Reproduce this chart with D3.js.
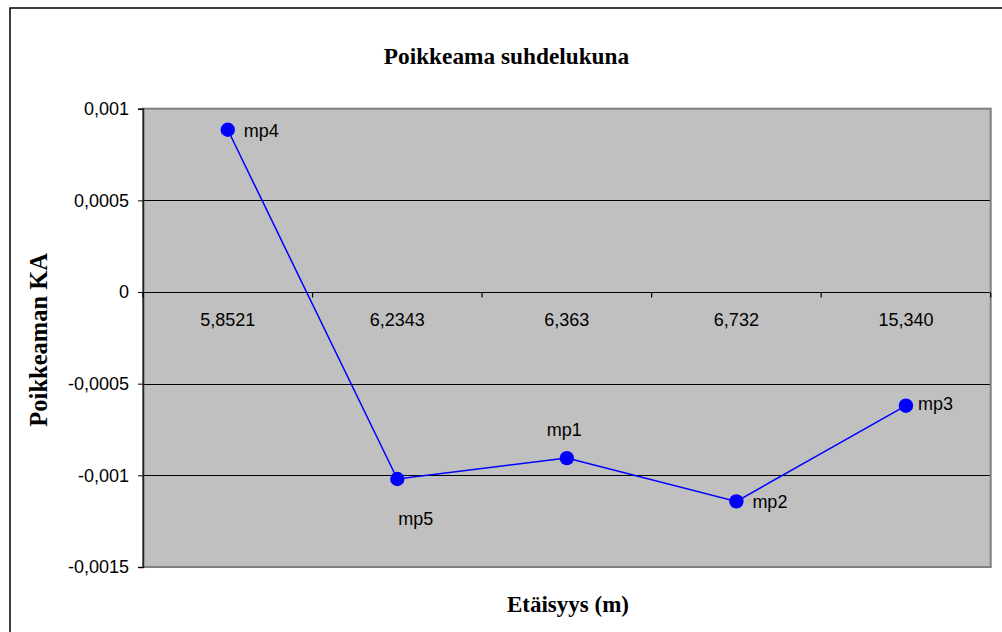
<!DOCTYPE html>
<html>
<head>
<meta charset="utf-8">
<script src="https://cdn.jsdelivr.net/npm/d3@7/dist/d3.min.js"></script>
<style>
  html, body { margin: 0; padding: 0; background: #fff; }
  svg { display: block; }
</style>
</head>
<body>
<svg id="chart" width="1002" height="632"></svg>
<script>
// Distance categories (m) along the x axis
const categories = ["5,8521", "6,2343", "6,363", "6,732", "15,340"];
// Mean deviation ratio per measuring point
const values = [0.000885, -0.00102, -0.000906, -0.001142, -0.00062];
// Measuring point names shown next to the markers
const pointLabels = ["mp4", "mp5", "mp1", "mp2", "mp3"];
// Value axis ticks
const yTicks = [0.001, 0.0005, 0, -0.0005, -0.001, -0.0015];

const titleText = "Poikkeama suhdelukuna";
const yTitleText = "Poikkeaman KA";
const xTitleText = "Etäisyys (m)";

// How each point label sits relative to its marker
const labelPlacement = {
  mp4: { anchor: "start", dx: 16, dy: 7 },
  mp5: { anchor: "start", dx: 1, dy: 46 },
  mp1: { anchor: "middle", dx: -2.5, dy: -22 },
  mp2: { anchor: "start", dx: 16, dy: 7 },
  mp3: { anchor: "start", dx: 12, dy: 4 }
};

const svg = d3.select("#chart");
const plot = { left: 143, top: 108.7, right: 990.7, bottom: 567 };

const x = d3.scaleBand().domain(categories).range([plot.left, plot.right]).paddingInner(0).paddingOuter(0);
const y = d3.scaleLinear().domain([-0.0015, 0.001]).range([plot.bottom, plot.top]);
const fmt = v => String(v).replace(".", ",");

const sans = "'Liberation Sans', Arial, sans-serif";
const serif = "'Liberation Serif', 'Times New Roman', serif";

// Chart frame
svg.append("rect")
  .attr("x", 10).attr("y", 8)
  .attr("width", 1010).attr("height", 640)
  .attr("fill", "#fff").attr("stroke", "#000").attr("stroke-width", 1.5);

// Plot area background
svg.append("rect")
  .attr("x", plot.left).attr("y", plot.top)
  .attr("width", plot.right - plot.left).attr("height", plot.bottom - plot.top)
  .attr("fill", "#c0c0c0");

// Horizontal gridlines
svg.append("g")
  .selectAll("line")
  .data(yTicks.filter(v => v !== 0.001 && v !== -0.0015))
  .join("line")
  .attr("x1", plot.left).attr("x2", plot.right)
  .attr("y1", d => Math.round(y(d)) + 0.5).attr("y2", d => Math.round(y(d)) + 0.5)
  .attr("stroke", "#000").attr("stroke-width", 1);

// Plot border
svg.append("rect")
  .attr("x", plot.left).attr("y", plot.top)
  .attr("width", plot.right - plot.left).attr("height", plot.bottom - plot.top)
  .attr("fill", "none").attr("stroke", "#808080").attr("stroke-width", 2);

// Value axis
const yAxis = d3.axisLeft(y).tickValues(yTicks).tickSize(5).tickPadding(9).tickFormat(fmt);
const gy = svg.append("g").attr("transform", `translate(${plot.left},0)`).call(yAxis);
gy.select(".domain").attr("stroke", "#222").attr("stroke-width", 1.5);
gy.selectAll(".tick line").attr("stroke", "#000");
gy.selectAll(".tick text")
  .attr("font-family", sans).attr("font-size", 18).attr("fill", "#000");

// Category axis crossing at zero, ticks between categories
const zeroY = Math.round(y(0)) + 0.5;
const boundaries = categories.map(c => x(c)).concat([plot.right]);
svg.append("g")
  .selectAll("line")
  .data(boundaries)
  .join("line")
  .attr("x1", d => d).attr("x2", d => d)
  .attr("y1", zeroY).attr("y2", zeroY + 5)
  .attr("stroke", "#000").attr("stroke-width", 1.2);

svg.append("g")
  .selectAll("text")
  .data(categories)
  .join("text")
  .attr("x", d => x(d) + x.bandwidth() / 2)
  .attr("y", 326)
  .attr("text-anchor", "middle")
  .attr("font-family", sans).attr("font-size", 18).attr("fill", "#000")
  .text(d => d);

// Series line and markers
const pts = categories.map((c, i) => ({ cx: x(c) + x.bandwidth() / 2, cy: y(values[i]), label: pointLabels[i] }));
svg.append("path")
  .datum(pts)
  .attr("d", d3.line().x(d => d.cx).y(d => d.cy))
  .attr("fill", "none").attr("stroke", "#0000ff").attr("stroke-width", 1.5);

svg.append("g")
  .selectAll("circle")
  .data(pts)
  .join("circle")
  .attr("cx", d => d.cx).attr("cy", d => d.cy).attr("r", 7.2)
  .attr("fill", "#0000ff");

svg.append("g")
  .selectAll("text")
  .data(pts)
  .join("text")
  .attr("x", d => d.cx + labelPlacement[d.label].dx)
  .attr("y", d => d.cy + labelPlacement[d.label].dy)
  .attr("text-anchor", d => labelPlacement[d.label].anchor)
  .attr("font-family", sans).attr("font-size", 18).attr("fill", "#000")
  .text(d => d.label);

// Titles
svg.append("text")
  .attr("x", 506.5).attr("y", 63.5)
  .attr("text-anchor", "middle")
  .attr("font-family", serif).attr("font-weight", "bold").attr("font-size", 23.3)
  .text(titleText);

svg.append("text")
  .attr("transform", `translate(47,${(plot.top + plot.bottom) / 2 + 2}) rotate(-90)`)
  .attr("text-anchor", "middle")
  .attr("font-family", serif).attr("font-weight", "bold").attr("font-size", 24.5)
  .text(yTitleText);

svg.append("text")
  .attr("x", 568).attr("y", 612)
  .attr("text-anchor", "middle")
  .attr("font-family", serif).attr("font-weight", "bold").attr("font-size", 23)
  .text(xTitleText);
</script>
</body>
</html>
